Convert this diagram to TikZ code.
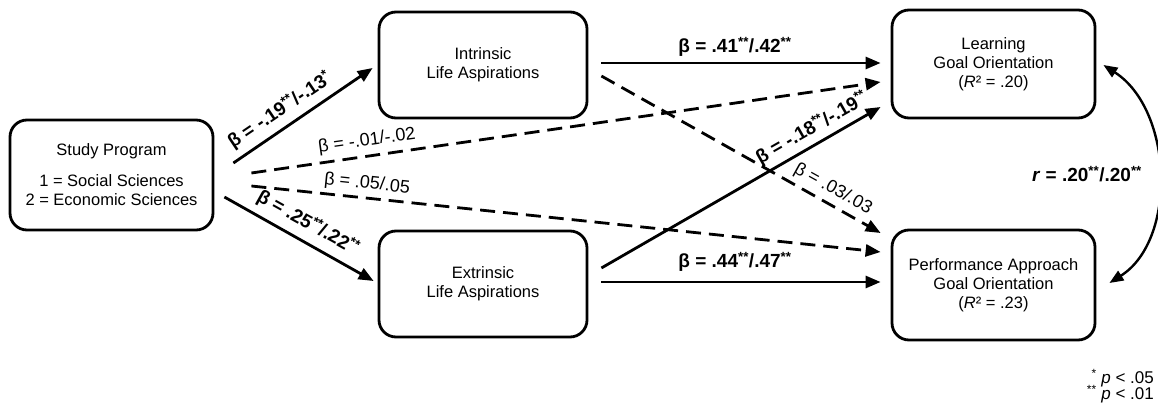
\documentclass[tikz,border=0pt]{standalone}
\usepackage{fontspec}
\setmainfont{Liberation Sans}
\usetikzlibrary{arrows.meta}
\newcommand\supst[1]{\textsuperscript{#1}}
\begin{document}
\begin{tikzpicture}[x=1pt,y=-1pt,
  font=\fontsize{16.5}{19}\selectfont,
  box/.style={draw, line width=2.8pt, rounded corners=17pt, align=center, inner sep=0pt},
  arr/.style={line width=2.8pt, -{Triangle[length=15pt,width=12pt]}},
  dsh/.style={arr, dash pattern=on 15pt off 8pt},
  blab/.style={inner sep=0pt, font=\fontsize{19}{22}\selectfont\bfseries},
  nlab/.style={inner sep=0pt, font=\fontsize{18}{21}\selectfont}]
\useasboundingbox (0,0) rectangle (1158,409);

% boxes
\node[box, minimum width=203pt, minimum height=110pt] (study) at (111.5,175)
  {Study Program\\[12pt]1 = Social Sciences\\2 = Economic Sciences};
\node[box, minimum width=208pt, minimum height=106pt] (intr) at (483,65)
  {Intrinsic\\Life Aspirations};
\node[box, minimum width=208pt, minimum height=106pt] (extr) at (483,284)
  {Extrinsic\\Life Aspirations};
\node[box, minimum width=203pt, minimum height=108pt] (learn) at (993.5,64)
  {Learning\\Goal Orientation\\(\textit{R}² = .20)};
\node[box, minimum width=203pt, minimum height=110pt] (perf) at (993.5,285)
  {Performance Approach\\Goal Orientation\\(\textit{R}² = .23)};

% connectors
\draw[arr] ([shift={(19,-12)}]study.east) -- ([shift={(-5,3)}]intr.west);
\draw[arr] ([shift={(10,22)}]study.east) -- ([shift={(-4,-3)}]extr.west);
\draw[dsh] ([shift={(37,-2)}]study.east) -- ([shift={(-10,18)}]learn.west);
\draw[dsh] ([shift={(37,11)}]study.east) -- ([shift={(-10,-33)}]perf.west);
\draw[arr] ([shift={(13,-2)}]intr.east) -- ([shift={(-10,-1)}]learn.west);
\draw[dsh] ([shift={(13,11)}]intr.east) -- ([shift={(-10,-52)}]perf.west);
\draw[arr] ([shift={(13,-16)}]extr.east) -- ([shift={(-10,43)}]learn.west);
\draw[arr] ([shift={(13,-2)}]extr.east) -- ([shift={(-10,-3)}]perf.west);
\draw[line width=2.4pt, {Triangle[length=14pt,width=11pt]}-{Triangle[length=14pt,width=11pt]}]
  ([shift={(7,1)}]learn.east) .. controls +(70,45) and +(68,-43) .. ([shift={(13,-2)}]perf.east);

% labels
\node[blab, rotate=34] at (280,110) {β = -.19\supst{**}/-.13\supst{*}};
\node[blab, rotate=-29] at (308,223) {β = .25\supst{**}/.22\supst{**}};
\node[nlab, rotate=8] at (367,141) {β = -.01/-.02};
\node[nlab, rotate=-6] at (367,184) {β = .05/.05};
\node[blab] at (735,47) {β = .41\supst{**}/.42\supst{**}};
\node[blab] at (735,262) {β = .44\supst{**}/.47\supst{**}};
\node[blab, rotate=29.7] at (812,128) {β = -.18\supst{**}/-.19\supst{**}};
\node[nlab, rotate=-29] at (833,189) {β = .03/.03};
\node[blab] at (1087,174) {\textit{r} = .20\supst{**}/.20\supst{**}};
\node[nlab, font=\fontsize{17}{20}\selectfont, anchor=east] at (1154,378) {\supst{*}\ \textit{p} < .05};
\node[nlab, font=\fontsize{17}{20}\selectfont, anchor=east] at (1154,394) {\supst{**}\ \textit{p} < .01};
\end{tikzpicture}
\end{document}
